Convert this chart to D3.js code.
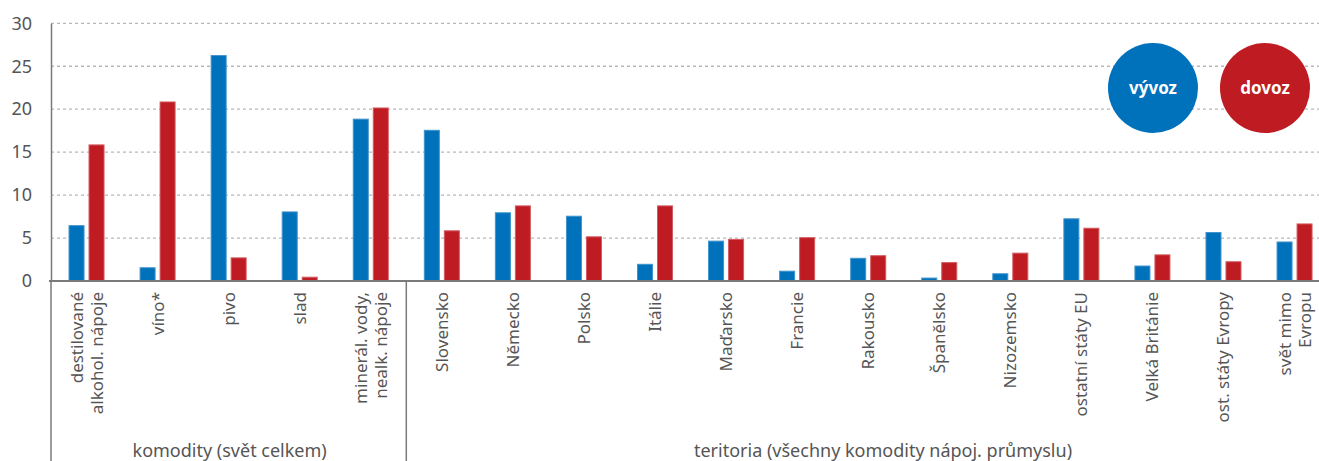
<!DOCTYPE html>
<html><head><meta charset="utf-8">
<script src="https://cdn.jsdelivr.net/npm/d3@7"></script>
<style>
html,body{margin:0;padding:0;background:#fff;}
svg{display:block;font-family:"Noto Sans","Open Sans",sans-serif;}
</style></head>
<body><svg id="c" width="1319" height="461"></svg>
<script>
const categories = ["destilované\nalkohol. nápoje","víno*","pivo","slad","minerál. vody,\nnealk. nápoje",
  "Slovensko","Německo","Polsko","Itálie","Maďarsko","Francie","Rakousko","Španělsko","Nizozemsko",
  "ostatní státy EU","Velká Británie","ost. státy Evropy","svět mimo\nEvropu"];
const vyvoz = [6.5,1.6,26.3,8.1,18.9, 17.6,8.0,7.6,2.0,4.7,1.2,2.7,0.4,0.9,7.3,1.8,5.7,4.6];
const dovoz = [15.9,20.9,2.75,0.5,20.2, 5.9,8.8,5.2,8.8,4.9,5.1,3.0,2.2,3.3,6.2,3.1,2.3,6.7];
const yTicks = [0,5,10,15,20,25,30];
const seriesNames = ["vývoz","dovoz"];
const groupLabels = ["komodity (svět celkem)","teritoria (všechny komodity nápoj. průmyslu)"];
const groupSizes = [5,13];

const colors = ["#0071bb","#be1b22"];
const strokes = ["#3f93cc","#d35a5f"];
const svg = d3.select("#c");
const x0 = 51, y0 = 281, yTop = 23.3;
const band = 71.06;
const x = d3.scaleBand().domain(categories).range([x0, x0 + band*categories.length]).paddingInner(0).paddingOuter(0);
const y = d3.scaleLinear().domain([0,30]).range([y0, yTop]);

// grid
svg.append("g").selectAll("line").data(yTicks.filter(d=>d>0)).join("line")
  .attr("x1", x0).attr("x2", 1319).attr("y1", d=>y(d)).attr("y2", d=>y(d))
  .attr("stroke","#b8b8b8").attr("stroke-width",1.3).attr("stroke-dasharray","3,3");

// y axis
const ya = svg.append("g").attr("transform",`translate(${x0},0)`)
  .call(d3.axisLeft(y).tickValues(yTicks).tickSize(0).tickPadding(19));
ya.select(".domain").attr("stroke","#7a7a7a").attr("stroke-width",1.5);
ya.selectAll("text").attr("font-size",18).attr("fill","#555").attr("font-family","Noto Sans, sans-serif");

// bars
const barW = 16;
const gBars = svg.append("g");
categories.forEach((c,i)=>{
  [vyvoz[i], dovoz[i]].forEach((v,j)=>{
    const bx = x(c) + band/2 - 18 + j*20;
    gBars.append("rect").attr("x", bx+0.5).attr("y", y(v)+0.5)
      .attr("width", barW-1).attr("height", Math.max(0, y0 - y(v) - 0.5))
      .attr("fill", colors[j]).attr("stroke", strokes[j]).attr("stroke-width",1);
  });
});

// x axis
svg.append("line").attr("x1", x0-2).attr("x2",1319).attr("y1",y0).attr("y2",y0)
  .attr("stroke","#7a7a7a").attr("stroke-width",2);

// separators
const sepIdx = [0, groupSizes[0]];
sepIdx.forEach(k=>{
  const sx = x(categories[k]);
  svg.append("line").attr("x1",sx).attr("x2",sx).attr("y1",y0).attr("y2",461)
    .attr("stroke","#7a7a7a").attr("stroke-width",1.5);
});

// x labels
const lg = svg.append("g");
categories.forEach((c,i)=>{
  const lines = c.split("\n");
  const cx = x(c) + band/2;
  const lh = 20;
  const t = lg.append("text").attr("transform",`translate(${cx},292) rotate(-90)`)
    .attr("text-anchor","end").attr("font-size",17).attr("fill","#555");
  lines.forEach((l,k)=>{
    t.append("tspan").attr("x",0).attr("y", (k - (lines.length-1)/2)*lh + 6).text(l);
  });
});

// group labels
const gStart0 = x(categories[0]), gEnd0 = x(categories[groupSizes[0]]);
svg.append("text").attr("x",(gStart0+gEnd0)/2 + 1).attr("y",457).attr("text-anchor","middle")
  .attr("font-size",18).attr("fill","#555").text(groupLabels[0]);
svg.append("text").attr("x",883).attr("y",457).attr("text-anchor","middle")
  .attr("font-size",18).attr("fill","#555").text(groupLabels[1]);

// legend
const legX = [1153, 1265];
seriesNames.forEach((s,j)=>{
  svg.append("circle").attr("cx",legX[j]).attr("cy",88).attr("r",45).attr("fill",colors[j]);
  svg.append("text").attr("x",legX[j]).attr("y",93.5).attr("text-anchor","middle")
    .attr("font-size",17).attr("font-weight","bold").attr("fill","#fff").text(s);
});
</script></body></html>
